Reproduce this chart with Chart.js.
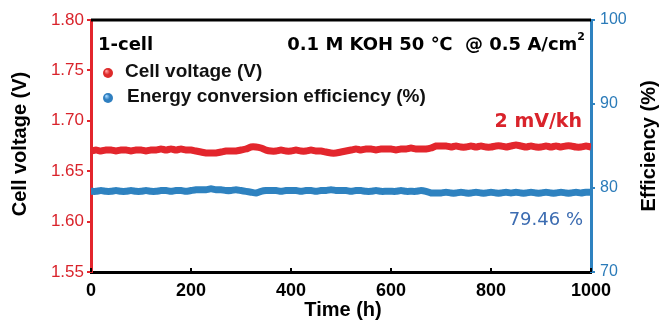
<!DOCTYPE html>
<html>
<head>
<meta charset="utf-8">
<script src="https://cdn.jsdelivr.net/npm/chart.js@4.4.1/dist/chart.umd.min.js"></script>
<style>
html,body{margin:0;padding:0;background:#fff;}
#wrap{width:662px;height:322px;position:relative;}
</style>
</head>
<body>
<div id="wrap"><canvas id="c" width="662" height="322"></canvas></div>
<script>
const times = [0,10,20,30,40,50,60,70,80,90,100,110,120,130,140,150,160,170,180,190,200,210,220,230,240,250,260,270,280,290,300,310,320,330,340,350,360,370,380,390,400,410,420,430,440,450,460,470,480,490,500,510,520,530,540,550,560,570,580,590,600,610,620,630,640,650,660,670,680,690,700,710,720,730,740,750,760,770,780,790,800,810,820,830,840,850,860,870,880,890,900,910,920,930,940,950,960,970,980,990,1000];
const voltage = [
1.670,1.671,1.670,1.671,1.671,1.670,1.671,1.671,1.670,1.671,
1.671,1.670,1.671,1.671,1.672,1.671,1.672,1.671,1.672,1.671,
1.671,1.670,1.669,1.668,1.668,1.668,1.669,1.670,1.670,1.670,
1.671,1.672,1.674,1.674,1.673,1.671,1.670,1.670,1.671,1.670,
1.670,1.671,1.670,1.670,1.671,1.670,1.670,1.669,1.668,1.668,
1.669,1.670,1.671,1.672,1.671,1.672,1.672,1.671,1.672,1.672,
1.672,1.671,1.672,1.672,1.673,1.672,1.672,1.672,1.673,1.675,
1.675,1.675,1.674,1.675,1.674,1.674,1.675,1.674,1.675,1.674,
1.674,1.675,1.675,1.674,1.675,1.676,1.675,1.674,1.675,1.674,
1.674,1.675,1.674,1.675,1.674,1.675,1.675,1.674,1.674,1.675,
1.674];
const efficiency = [
79.6,79.6,79.7,79.6,79.6,79.7,79.6,79.6,79.7,79.6,
79.6,79.7,79.6,79.6,79.7,79.7,79.6,79.7,79.7,79.6,
79.7,79.8,79.8,79.8,79.9,79.8,79.8,79.7,79.7,79.8,
79.7,79.6,79.5,79.4,79.6,79.7,79.7,79.7,79.6,79.7,
79.7,79.7,79.6,79.7,79.7,79.6,79.7,79.7,79.8,79.7,
79.7,79.7,79.6,79.7,79.7,79.6,79.6,79.7,79.6,79.6,
79.6,79.6,79.7,79.6,79.6,79.6,79.7,79.6,79.4,79.4,
79.4,79.5,79.4,79.4,79.5,79.4,79.4,79.5,79.4,79.4,
79.5,79.4,79.4,79.5,79.4,79.5,79.4,79.4,79.5,79.4,
79.4,79.5,79.4,79.4,79.5,79.4,79.4,79.5,79.4,79.5,
79.5];
const xTicks = [0,200,400,600,800,1000];
const leftTicks = [1.55,1.60,1.65,1.70,1.75,1.80];
const rightTicks = [70,80,90,100];

const RED = '#e3262d';
const BLUE = '#2e82c0';
const RED_TXT = '#d9232b';
const BLUE_TXT = '#2b7bb9';

const vData = times.map((t,i)=>({x:t,y:voltage[i]}));
const eData = times.map((t,i)=>({x:t,y:efficiency[i]}));

function ball(ctx,x,y,r,base,light){
  const g = ctx.createRadialGradient(x-r*0.35,y-r*0.4,r*0.1,x,y,r);
  g.addColorStop(0,light);
  g.addColorStop(0.5,base);
  g.addColorStop(1,base);
  ctx.beginPath();ctx.arc(x,y,r,0,Math.PI*2);ctx.fillStyle=g;ctx.fill();
}

const extras = {
  id:'extras',
  afterDraw(chart){
    const ctx = chart.ctx, a = chart.chartArea, xs = chart.scales.x;
    ctx.save();
    // top frame line
    ctx.strokeStyle='#000';ctx.lineWidth=3;
    ctx.beginPath();ctx.moveTo(a.left,a.top);ctx.lineTo(a.right,a.top);ctx.stroke();
    // inward x ticks
    ctx.lineWidth=2;
    xTicks.forEach(v=>{const px=xs.getPixelForValue(v);ctx.beginPath();ctx.moveTo(px,a.bottom);ctx.lineTo(px,a.bottom-4);ctx.stroke();});
    // axis titles
    ctx.fillStyle='#000';
    ctx.font='bold 20px "Liberation Sans", Arial, sans-serif';
    ctx.textAlign='center';ctx.textBaseline='middle';
    ctx.save();ctx.translate(20,144);ctx.rotate(-Math.PI/2);ctx.fillText('Cell voltage (V)',0,0);ctx.restore();
    ctx.save();ctx.translate(649,146);ctx.rotate(-Math.PI/2);ctx.fillText('Efficiency (%)',0,0);ctx.restore();
    ctx.textBaseline='alphabetic';
    ctx.fillText('Time (h)',343,316);
    // annotations
    ctx.font='bold 18px "DejaVu Sans", sans-serif';
    ctx.textAlign='left';
    ctx.fillText('1-cell',98,50);
    ctx.textAlign='right';
    ctx.font='bold 11px "DejaVu Sans", sans-serif';
    const supW = ctx.measureText('2').width;
    ctx.fillText('2',585,40);
    ctx.font='bold 18px "DejaVu Sans", sans-serif';
    ctx.fillText('0.1 M KOH 50 \u2103  @ 0.5 A/cm',585-supW,50);
    ctx.fillStyle=RED_TXT;
    ctx.font='bold 19px "DejaVu Sans", sans-serif';
    ctx.fillText('2 mV/kh',582,127);
    ctx.fillStyle='#3c6cb1';
    ctx.font='18px "DejaVu Sans", sans-serif';
    ctx.fillText('79.46 %',583,225);
    // legend
    ball(ctx,108,73,5,'#dd2a2a','#ff9a9a');
    ball(ctx,108,98,5,'#2f7fc0','#9fd4ff');
    ctx.fillStyle='#111';
    ctx.textAlign='left';ctx.textBaseline='middle';
    ctx.font='bold 19px "Liberation Sans", Arial, sans-serif';
    ctx.fillText('Cell voltage (V)',125,72);
    ctx.fillText('Energy conversion efficiency (%)',127,97);
    ctx.restore();
  }
};

new Chart(document.getElementById('c'),{
  type:'line',
  data:{datasets:[
    {label:'Cell voltage (V)',data:vData,yAxisID:'y',borderColor:RED,backgroundColor:RED,borderWidth:7,pointRadius:0,tension:0.15},
    {label:'Energy conversion efficiency (%)',data:eData,yAxisID:'y2',borderColor:BLUE,backgroundColor:BLUE,borderWidth:7,pointRadius:0,tension:0.15}
  ]},
  options:{
    responsive:false,animation:false,
    layout:{padding:{top:20,left:0,right:0,bottom:0}},
    plugins:{legend:{display:false},tooltip:{enabled:false}},
    scales:{
      x:{type:'linear',min:0,max:1000,
        afterBuildTicks:s=>{s.ticks=xTicks.map(v=>({value:v}));},
        afterFit:s=>{s.height=50;},
        grid:{display:false,drawTicks:false},
        border:{display:true,color:'#000',width:3},
        ticks:{color:'#000',padding:8,maxRotation:0,callback:v=>String(v),font:{family:'"Liberation Sans", Arial, sans-serif',size:18,weight:'bold'}}
      },
      y:{position:'left',min:1.55,max:1.80,
        afterBuildTicks:s=>{s.ticks=leftTicks.map(v=>({value:v}));},
        afterFit:s=>{s.width=91;},
        grid:{drawOnChartArea:false,color:RED,tickLength:4,lineWidth:2},
        border:{display:true,color:RED,width:3},
        ticks:{color:RED_TXT,padding:3,callback:v=>v.toFixed(2),font:{family:'"Liberation Sans", Arial, sans-serif',size:17}}
      },
      y2:{position:'right',min:70,max:100,
        afterBuildTicks:s=>{s.ticks=rightTicks.map(v=>({value:v}));},
        afterFit:s=>{s.width=71;},
        grid:{drawOnChartArea:false,color:BLUE,tickLength:4,lineWidth:2},
        border:{display:true,color:BLUE,width:3},
        ticks:{color:BLUE_TXT,padding:5,font:{family:'"Liberation Sans", Arial, sans-serif',size:16}}
      }
    }
  },
  plugins:[extras]
});
</script>
</body>
</html>
